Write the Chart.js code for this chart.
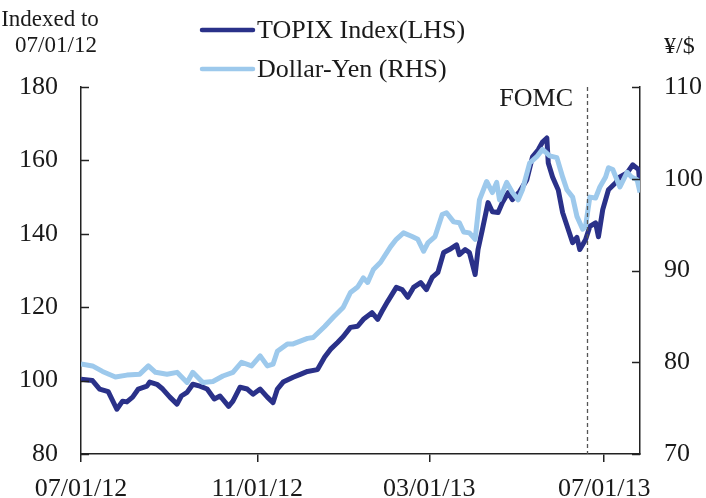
<!DOCTYPE html>
<html><head><meta charset="utf-8">
<script src="https://cdn.jsdelivr.net/npm/chart.js@4.4.0/dist/chart.umd.min.js"></script>
<style>html,body{margin:0;padding:0;background:#fff}#wrap{width:706px;height:498px;position:relative}</style>
</head><body><div id="wrap"><canvas id="c"></canvas></div>
<script>
// Days since 07/01/12 and index values (TOPIX, indexed to 07/01/12 = 100)
const topixDays = [0,8,13,19,25,29,32,36,40,46,48,53,57,62,67,70,74,78,83,88,93,97,103,106,111,116,120,125,130,134,137,141,148,153,158,165,170,174,179,183,188,193,197,203,207,210,214,220,224,228,232,237,241,245,249,253,257,262,264,268,271,275,277,280,284,287,291,294,298,301,306,311,315,319,322,325,326,329,333,336,340,343,346,348,352,355,359,361,364,368,373,376,381,385,389,390];
const topixValues = [100.4,100,97.7,97,92.2,94.4,94.2,95.5,97.7,98.5,99.6,99,97.7,95.5,93.6,95.8,96.8,99,98.5,97.7,95,95.8,93,94.4,98.2,97.7,96.3,97.7,95.5,94,97.7,99.6,100.9,101.7,102.5,103,106.4,108.5,110.4,112,114.5,114.8,116.7,118.5,116.7,118.9,121.6,125.4,124.8,122.7,125.4,126.7,124.8,128.1,129.5,134.9,135.7,137,134.3,135.7,134.9,128.9,135.7,141.1,148.5,146,145.8,148.5,151.2,149.3,151.5,154.7,161,162.9,165,166.1,159.3,155.5,151.9,145.8,141.1,137.6,139,135.7,138.4,142,143,139.2,146.6,152,153.9,155.5,156.6,158.8,157.5,153];
// Dollar-Yen (yen per dollar)
const yenDays = [0,8,15,24,32,41,47,52,60,67,74,78,85,92,99,106,112,119,125,130,134,137,144,148,153,158,162,170,176,183,188,193,197,200,204,209,216,220,225,231,235,239,242,247,252,255,260,264,267,271,275,278,283,287,290,292,297,301,305,308,313,318,322,327,332,336,339,343,346,350,352,355,359,362,366,368,371,376,381,384,388,390];
const yenValues = [79.8,79.6,79,78.4,78.6,78.7,79.6,78.9,78.7,78.9,77.8,78.9,77.8,77.9,78.5,78.9,80,79.6,80.7,79.6,79.8,81.2,82,82,82.3,82.6,82.7,83.9,84.9,86,87.6,88.2,89.2,88.7,90.1,90.9,92.6,93.4,94.1,93.7,93.4,92.1,93,93.7,96.1,96.3,95.3,95.2,94.2,94.1,93.4,97.7,99.7,98.5,99.6,97.7,99.6,98.5,97.7,98.8,101.7,102.4,103.2,102.5,102.3,100.2,98.8,98,95.9,94.5,94.8,98,97.9,99.1,100.2,101.2,101,99.1,100.7,100.2,99.9,98.5];
const xTickDays = [0,123,243,365];
const xTickLabels = ['07/01/12','11/01/12','03/01/13','07/01/13'];
const fomcDay = 353;
const seriesNames = ['TOPIX Index(LHS)','Dollar-Yen (RHS)'];
const leftTitle = ['Indexed to','07/01/12'];
const rightTitle = '¥/$';
const eventLabel = 'FOMC';

const DARK = '#2a3189';
const LIGHT = '#9dc9ec';
const INK = '#1a1a1a';
const FONT = '"Liberation Serif", "Times New Roman", serif';

const extras = {
  id: 'extras',
  afterDatasetsDraw(chart) {
    const ctx = chart.ctx;
    const {top, bottom} = chart.chartArea;
    const x = chart.scales.x.getPixelForValue(fomcDay);
    ctx.save();
    ctx.strokeStyle = '#555';
    ctx.lineWidth = 1.3;
    ctx.setLineDash([4, 3]);
    ctx.beginPath();
    ctx.moveTo(Math.round(x) + 0.5, top);
    ctx.lineTo(Math.round(x) + 0.5, bottom);
    ctx.stroke();
    ctx.restore();
  },
  afterDraw(chart) {
    const ctx = chart.ctx;
    const y = chart.scales.y, y2 = chart.scales.y2;
    ctx.save();
    ctx.strokeStyle = '#222';
    ctx.lineWidth = 1.5;
    y.ticks.forEach(t => {
      const p = Math.round(y.getPixelForValue(t.value)) + 0.5;
      ctx.beginPath(); ctx.moveTo(y.right, p); ctx.lineTo(y.right + 8, p); ctx.stroke();
    });
    y2.ticks.forEach(t => {
      const p = Math.round(y2.getPixelForValue(t.value)) + 0.5;
      ctx.beginPath(); ctx.moveTo(y2.left, p); ctx.lineTo(y2.left - 8, p); ctx.stroke();
    });
    // texts
    ctx.fillStyle = INK;
    ctx.textBaseline = 'middle';
    ctx.font = '23px ' + FONT;
    ctx.textAlign = 'center';
    ctx.fillText(leftTitle[0], 50, 20);
    ctx.fillText(leftTitle[1], 56, 46);
    ctx.font = '24px ' + FONT;
    ctx.textAlign = 'left';
    ctx.fillText(rightTitle, 664, 47);
    ctx.font = '26px ' + FONT;
    ctx.textAlign = 'right';
    ctx.fillText(eventLabel, 573, 99);
    // legend
    const items = [[DARK, 30], [LIGHT, 69]];
    items.forEach((it, i) => {
      ctx.strokeStyle = it[0];
      ctx.lineWidth = 4.5;
      ctx.lineCap = 'round';
      ctx.beginPath(); ctx.moveTo(202, it[1]); ctx.lineTo(253, it[1]); ctx.stroke();
      ctx.textAlign = 'left';
      ctx.fillText(seriesNames[i], 257, it[1] + 1);
    });
    ctx.restore();
  }
};

Chart.defaults.font.family = FONT;
Chart.defaults.font.size = 26;
Chart.defaults.color = INK;

new Chart(document.getElementById('c'), {
  type: 'line',
  data: {
    datasets: [
      { label: seriesNames[0], data: topixDays.map((d, i) => ({x: d, y: topixValues[i]})), yAxisID: 'y',
        borderColor: DARK, borderWidth: 5, pointRadius: 0, tension: 0, order: 1, borderJoinStyle: 'round' },
      { label: seriesNames[1], data: yenDays.map((d, i) => ({x: d, y: yenValues[i]})), yAxisID: 'y2',
        borderColor: LIGHT, borderWidth: 5, pointRadius: 0, tension: 0, order: 0, borderJoinStyle: 'round' }
    ]
  },
  options: {
    responsive: true, maintainAspectRatio: false, animation: false,
    layout: { padding: { top: 87, left: 0, right: 0, bottom: 0 } },
    plugins: { legend: { display: false }, tooltip: { enabled: false } },
    scales: {
      x: {
        type: 'linear', min: 0, max: 390,
        afterBuildTicks: s => { s.ticks = xTickDays.map(v => ({value: v})); },
        afterFit: s => { s.height = 44; },
        ticks: { autoSkip: false, maxRotation: 0, padding: 12, color: INK,
                 callback: (v) => { const i = xTickDays.indexOf(v); return i >= 0 ? xTickLabels[i] : ''; } },
        grid: { display: true, drawOnChartArea: false, drawTicks: true, tickLength: 8, color: '#222', lineWidth: 1.5 },
        border: { display: true, color: '#222', width: 1.5 }
      },
      y: {
        position: 'left', min: 80, max: 180,
        afterFit: s => { s.width = 81; },
        ticks: { stepSize: 20, padding: 23, color: INK },
        grid: { display: false, drawTicks: false },
        border: { display: true, color: '#222', width: 1.5 }
      },
      y2: {
        position: 'right', min: 70, max: 110,
        afterFit: s => { s.width = 66; },
        ticks: { stepSize: 10, padding: 24, color: INK },
        grid: { display: false, drawTicks: false },
        border: { display: true, color: '#222', width: 1.5 }
      }
    }
  },
  plugins: [extras]
});
</script>
</body></html>
